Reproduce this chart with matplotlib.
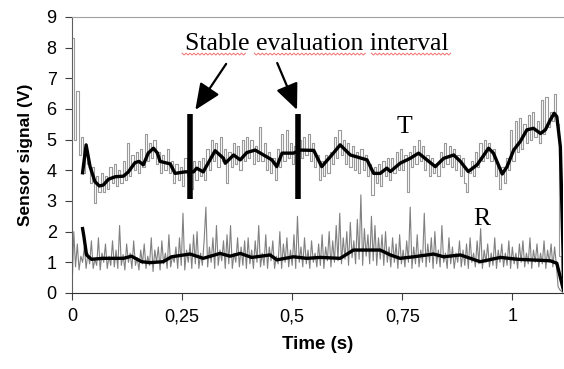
import numpy as np
import matplotlib
matplotlib.use("Agg")
import matplotlib.pyplot as plt

# raw transmitted signal (T), sampled every 5 ms
t_dt = 0.005
t_raw = [
    8.3, 5.0, 6.6, 4.5, 5.1, 3.9, 4.6, 4.2, 3.6, 4.1, 2.95, 3.8, 3.3, 3.9, 3.3, 3.8, 3.4, 4.1, 3.6, 4.2,
    3.5, 4.0, 3.6, 4.3, 3.7, 4.9, 3.8, 4.5, 4.0, 4.6, 3.9, 4.7, 4.1, 5.2, 4.3, 4.9, 4.4, 5.0, 4.2, 4.6,
    3.9, 4.5, 4.0, 4.7, 3.9, 4.3, 3.6, 4.2, 3.7, 4.1, 3.5, 4.4, 3.8, 4.2, 3.4, 4.3, 3.7, 4.3, 3.8, 4.4,
    3.7, 4.7, 4.0, 5.0, 4.3, 4.9, 4.1, 5.1, 4.3, 4.7, 3.6, 4.6, 4.1, 4.9, 4.2, 4.8, 4.0, 5.0, 4.3, 5.1,
    4.4, 5.0, 4.2, 4.8, 4.3, 5.4, 4.3, 4.9, 4.0, 4.6, 3.9, 4.4, 3.7, 4.7, 4.1, 5.2, 4.3, 5.3, 4.4, 4.9,
    4.2, 4.8, 4.3, 5.0, 4.4, 5.1, 4.5, 5.2, 4.3, 4.9, 4.1, 4.5, 3.7, 4.3, 3.8, 4.5, 3.9, 4.6, 4.2, 5.1,
    4.4, 5.3, 4.5, 5.0, 4.2, 4.9, 4.1, 4.8, 4.0, 4.6, 3.9, 4.7, 4.0, 4.5, 3.8, 4.2, 3.2, 4.1, 3.6, 4.2,
    3.5, 4.3, 3.8, 4.4, 3.7, 4.4, 3.9, 4.6, 4.0, 4.7, 4.0, 4.5, 3.3, 4.6, 4.1, 4.8, 4.2, 5.0, 4.3, 4.8,
    4.0, 4.5, 3.8, 4.4, 3.9, 4.2, 3.8, 4.6, 4.1, 4.9, 4.2, 4.8, 4.1, 4.7, 4.0, 4.5, 3.8, 4.4, 3.6, 3.3,
    3.9, 4.3, 3.8, 4.6, 4.1, 4.9, 4.3, 5.0, 4.4, 4.9, 4.3, 4.7, 3.8, 4.2, 3.4, 4.1, 3.6, 4.4, 4.0, 5.3,
    4.3, 5.6, 4.6, 5.7, 4.7, 5.5, 4.9, 5.8, 5.0, 5.9, 5.1, 5.6, 4.9, 6.3, 5.2, 6.4, 5.4, 5.9, 5.6, 6.5,
    5.5, 1.2, 0.3, 0.1,
]

# raw reflected signal (R), sampled every 4 ms
r_dt = 0.004
r_raw = [
    0.1, 2.0, 0.85, 1.6, 0.75, 1.2, 1.0, 1.5, 0.8, 1.3, 0.95, 1.7, 0.8, 1.1, 0.9, 1.8, 0.75, 1.3, 1.0, 1.6, 0.8, 1.2, 0.9, 1.7, 0.85,
    1.4, 0.8, 2.2, 0.9, 1.25, 0.75, 1.6, 1.0, 1.3, 0.8, 1.7, 0.9, 1.15, 0.75, 1.4, 0.95, 1.6, 0.8, 1.2, 0.9, 1.8, 0.7, 1.4, 1.0, 1.5,
    0.75, 1.7, 0.95, 1.3, 0.8, 1.9, 0.85, 1.2, 1.0, 1.5, 0.8, 1.8, 0.9, 2.6, 0.75, 1.4, 1.0, 1.6, 0.8, 1.9, 0.95, 2.0, 0.8, 1.3, 0.9,
    1.7, 2.8, 0.85, 1.5, 1.0, 1.8, 0.8, 2.2, 0.9, 1.4, 1.05, 1.7, 0.8, 1.9, 0.95, 2.2, 0.8, 1.3, 1.0, 1.8, 0.85, 1.5, 0.9, 1.7, 0.8,
    1.8, 0.95, 1.4, 0.8, 1.7, 1.0, 2.2, 0.85, 1.3, 0.9, 1.9, 0.8, 1.5, 1.05, 1.7, 0.8, 1.2, 0.95, 2.0, 0.8, 1.6, 1.0, 1.8, 0.85, 1.4,
    0.9, 1.9, 0.8, 2.5, 1.0, 1.5, 0.85, 1.8, 0.95, 1.4, 0.8, 1.7, 1.0, 1.3, 0.85, 1.6, 0.9, 1.9, 0.8, 1.5, 1.05, 2.0, 0.85, 1.7, 1.0,
    2.2, 1.05, 2.6, 0.95, 1.8, 1.1, 2.0, 0.9, 2.3, 1.15, 1.7, 0.95, 2.4, 1.1, 3.2, 0.9, 2.1, 1.2, 1.9, 0.95, 2.5, 1.05, 2.2, 0.9, 1.8,
    1.1, 1.9, 0.9, 2.0, 1.0, 1.5, 0.85, 1.8, 1.0, 1.6, 0.8, 1.9, 0.95, 1.4, 0.85, 1.7, 1.0, 2.8, 0.8, 1.5, 0.95, 1.9, 0.85, 1.4, 1.0,
    2.6, 0.85, 1.6, 1.0, 1.8, 0.8, 2.0, 0.95, 1.4, 0.85, 2.2, 1.0, 1.3, 0.8, 1.8, 0.95, 1.5, 0.8, 1.3, 1.0, 1.7, 0.85, 1.4, 0.9, 1.6,
    0.8, 1.8, 1.0, 1.3, 0.85, 1.7, 0.95, 2.1, 0.8, 1.4, 1.0, 1.6, 0.85, 1.3, 0.9, 1.8, 0.8, 1.4, 1.0, 1.6, 0.85, 1.3, 0.9, 1.7, 0.8,
    1.5, 0.95, 1.3, 0.8, 1.6, 1.0, 1.7, 0.85, 1.3, 0.95, 1.8, 0.8, 1.4, 1.0, 1.6, 0.85, 1.3, 0.95, 1.7, 0.8, 1.4, 1.0, 1.6, 0.85, 1.5,
    0.9, 0.2, 0.1, 0.05, 0.0,
]

# moving-average curves (black)
t_avg_x = [0.024, 0.032, 0.041, 0.052, 0.062, 0.071, 0.083, 0.098, 0.117, 0.128, 0.143, 0.152, 0.162, 0.173,
           0.185, 0.194, 0.2, 0.223, 0.234, 0.257, 0.276, 0.283, 0.298, 0.325, 0.344, 0.348, 0.367, 0.382,
           0.397, 0.416, 0.435, 0.454, 0.465, 0.477, 0.503, 0.518, 0.549, 0.567, 0.59, 0.609, 0.632, 0.658,
           0.67, 0.685, 0.7, 0.715, 0.723, 0.745, 0.768, 0.787, 0.806, 0.825, 0.844, 0.867, 0.882, 0.9,
           0.92, 0.946, 0.957, 0.977, 0.988, 1.003, 1.018, 1.033, 1.048, 1.064, 1.075, 1.086, 1.095, 1.101,
           1.109, 1.117]
t_avg_y = [3.92, 4.83, 4.12, 3.63, 3.49, 3.52, 3.71, 3.79, 3.81, 3.95, 4.25, 4.29, 4.18, 4.56,
           4.72, 4.56, 4.29, 4.21, 3.9, 3.95, 3.95, 4.07, 3.95, 4.64, 4.39, 4.23, 4.5, 4.34,
           4.58, 4.66, 4.5, 4.34, 4.12, 4.56, 4.56, 4.66, 4.65, 4.12, 4.5, 4.83, 4.5, 4.39,
           4.34, 3.9, 3.9, 4.07, 3.96, 4.23, 4.39, 4.56, 4.34, 4.12, 4.39, 4.5, 4.29, 3.96,
           4.18, 4.72, 4.56, 3.88, 4.12, 4.66, 4.94, 5.32, 5.37, 5.2, 5.32, 5.64, 5.86, 5.75,
           4.77, 0.3]
r_avg_x = [0.024, 0.027, 0.033, 0.044, 0.071, 0.117, 0.135, 0.158, 0.177, 0.207, 0.226, 0.268, 0.298,
           0.336, 0.359, 0.382, 0.408, 0.45, 0.465, 0.503, 0.533, 0.564, 0.609, 0.639, 0.7, 0.723,
           0.745, 0.776, 0.821, 0.844, 0.882, 0.927, 0.973, 1.011, 1.086, 1.101, 1.116]
r_avg_y = [2.1, 1.84, 1.24, 1.1, 1.13, 1.13, 1.2, 1.02, 0.99, 1.02, 1.18, 1.27, 1.13,
           1.29, 1.2, 1.29, 1.16, 1.24, 1.08, 1.18, 1.13, 1.16, 1.13, 1.4, 1.4, 1.24,
           1.13, 1.18, 1.27, 1.18, 1.24, 1.02, 1.16, 1.1, 1.05, 0.97, 0.1]

# stable evaluation interval limits (s) and bar extent (V)
interval = [0.268, 0.514]
bar_lo, bar_hi = 3.05, 5.85

x_ticks = [0, 0.25, 0.5, 0.75, 1]
x_tick_labels = ["0", "0,25", "0,5", "0,75", "1"]

plt.rcParams["font.family"] = ["Liberation Sans", "DejaVu Sans"]

fig = plt.figure(figsize=(5.64, 3.69), dpi=100)
ax = fig.add_axes([0.1277, 0.206, 0.8705, 0.748])

t_x = np.arange(len(t_raw)) * t_dt
r_x = np.arange(len(r_raw)) * r_dt
ax.plot(r_x, r_raw, color="#808080", lw=0.8)
ax.plot(t_x, t_raw, color="#9a9a9a", lw=0.8, drawstyle="steps-post")
ax.plot(r_avg_x, r_avg_y, color="black", lw=2.4)
ax.plot(t_avg_x, t_avg_y, color="black", lw=2.4)

for xi in interval:
    ax.plot([xi, xi], [bar_lo, bar_hi], color="black", lw=4, solid_capstyle="butt")

serif = ["Liberation Serif", "DejaVu Serif"]
ax.text(0.557, 7.92, "Stable evaluation interval", family=serif, fontsize=18.5,
        ha="center", va="baseline")
arrow = dict(arrowstyle="-|>,head_length=0.8,head_width=0.35", lw=1.6, color="black",
             mutation_scale=20, shrinkA=0, shrinkB=0)
ax.annotate("", xy=(0.28, 5.97), xytext=(0.35, 7.47), arrowprops=arrow)
ax.annotate("", xy=(0.511, 5.97), xytext=(0.466, 7.5), arrowprops=arrow)

# spell-check squiggles under the caption
for x0, x1 in [(0.25, 0.397), (0.414, 0.666), (0.68, 0.864)]:
    zx = np.arange(x0, x1, 0.0045)
    zy = 7.79 + 0.03 * np.where(np.arange(len(zx)) % 2 == 0, 1, -1)
    ax.plot(zx, zy, color="#f07070", lw=0.7)

ax.text(0.755, 5.4, "T", family=serif, fontsize=18.5, ha="center", va="center")
ax.text(0.93, 2.42, "R", family=serif, fontsize=18.5, ha="center", va="center")

ax.set_xlim(0, 1.115)
ax.set_ylim(0, 9)
ax.set_xticks(x_ticks)
ax.set_xticklabels(x_tick_labels)
ax.set_yticks(range(10))
ax.tick_params(labelsize=13, length=5, width=0.8, color="#404040", pad=6)
ax.set_xlabel("Time (s)", fontsize=13.5, fontweight="bold", labelpad=8)
ax.set_ylabel("Sensor signal (V)", fontsize=12.5, fontweight="bold", labelpad=10)

ax.spines["right"].set_visible(False)
ax.spines["top"].set_color("#a0a0a0")
ax.spines["left"].set_color("#606060")
ax.spines["bottom"].set_color("#303030")

fig.savefig("out.png", dpi=100)
